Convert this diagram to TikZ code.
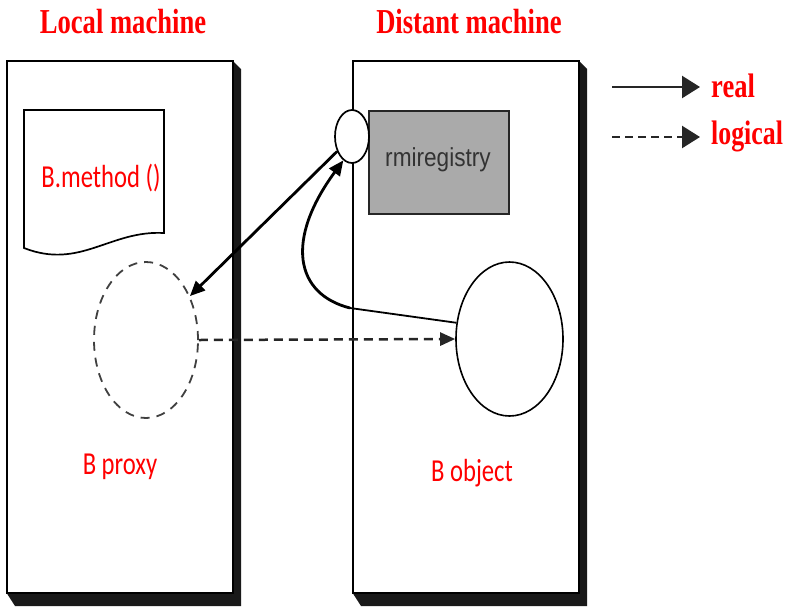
\documentclass[tikz,border=0pt]{standalone}
\usepackage{graphicx}
\usepackage{fontspec}
\newfontfamily\tnrfont{Liberation Serif}
\newfontfamily\calfont{Carlito}
\newfontfamily\arifont{Liberation Sans}
\usetikzlibrary{arrows.meta,shapes.geometric}
\definecolor{redtxt}{RGB}{255,0,0}
\definecolor{reggray}{RGB}{170,170,170}
\newcommand{\sqz}[2][0.77]{\scalebox{#1}[1]{#2}}
\tikzset{
  machine/.style={draw=black, line width=1.7pt, fill=white, minimum width=226pt, minimum height=532pt, inner sep=0pt, anchor=north west},
  slab/.style={fill=black!90},
  title/.style={text=redtxt, font=\tnrfont\bfseries\fontsize{35}{40}\selectfont, inner sep=0pt},
  lab/.style={text=redtxt, font=\calfont\fontsize{32}{36}\selectfont, inner sep=0pt},
  legtxt/.style={text=redtxt, font=\tnrfont\bfseries\fontsize{34}{38}\selectfont, inner sep=0pt, anchor=west},
  realarr/.style={line width=2.8pt, -{Triangle[length=15pt,width=13pt]}},
  logarr/.style={line width=2.5pt, black!85, dash pattern=on 9pt off 6pt, -{Triangle[length=15pt,width=13pt]}},
  legreal/.style={line width=2.5pt, black!85, -{Triangle[length=18pt,width=22pt]}},
  leglog/.style={line width=2.5pt, black!85, dash pattern=on 8pt off 5pt, -{Triangle[length=18pt,width=22pt]}},
}
\begin{document}
\begin{tikzpicture}[x=1pt,y=-1pt]
\useasboundingbox (0,0) rectangle (792,606);
% shadows
\fill[slab] (232,60) -- (241,69) -- (241,606) -- (15,606) -- (6,592) -- (232,592) -- cycle;
\fill[slab] (578,60) -- (587,69) -- (587,606) -- (361,606) -- (352,592) -- (578,592) -- cycle;
% machines
\node[machine] (local) at (6,60) {};
\node[machine] (distant) at (352,60) {};
% titles
\node[title] (tlocal) at (123,22) {\sqz[0.76]{Local machine}};
\node[title] (tdistant) at (469,22) {\sqz[0.76]{Distant machine}};
% document shape
\draw[line width=1.7pt, fill=white] (24,110) -- (164,110) -- (164,233) .. controls (110,230) and (80,270) .. (24,248) -- cycle;
\node[lab] (meth) at (101,178) {\sqz{B.method ()}};
% registry
\node[draw=black!85, line width=1.7pt, fill=reggray, minimum width=140pt, minimum height=103pt, inner sep=0pt] (reg) at (439,162.5) {};
\node[text=black!80, font=\arifont\fontsize{26}{28}\selectfont, inner sep=0pt] (regtxt) at (438,160) {\sqz[0.87]{rmiregistry}};
\node[ellipse, draw=black, line width=1.7pt, fill=white, minimum width=34pt, minimum height=53pt, inner sep=0pt] (port) at (352,136.5) {};
% proxy and object
\node[ellipse, draw=black!75, line width=1.8pt, dash pattern=on 9pt off 7pt, minimum width=104pt, minimum height=156pt, inner sep=0pt] (proxy) at (146,340) {};
\node[ellipse, draw=black, line width=1.6pt, minimum width=107pt, minimum height=154pt, inner sep=0pt] (obj) at (509.5,339) {};
\node[lab] (proxytxt) at (120,467) {\sqz{B proxy}};
\node[lab] (objtxt) at (472,473) {\sqz{B object}};
% connectors
\draw[realarr] (port.225) -- (proxy.45);
\coordinate (bend) at (350,308);
\draw[line width=1.8pt] (obj.163) -- (bend);
\draw[realarr] (bend) .. controls (295,294) and (285,240) .. (port.250);
\draw[logarr] (proxy.east) -- (obj.west);
% legend
\coordinate (r1) at (612,87);
\coordinate (r2) at (700,87);
\coordinate (g1) at (612,137);
\coordinate (g2) at (700,137);
\draw[legreal] (r1) -- (r2);
\draw[leglog] (g1) -- (g2);
\node[legtxt] (real) at (711,86) {\sqz[0.78]{real}};
\node[legtxt] (logical) at (711,136) {\sqz[0.76]{logical}};
\end{tikzpicture}
\end{document}
